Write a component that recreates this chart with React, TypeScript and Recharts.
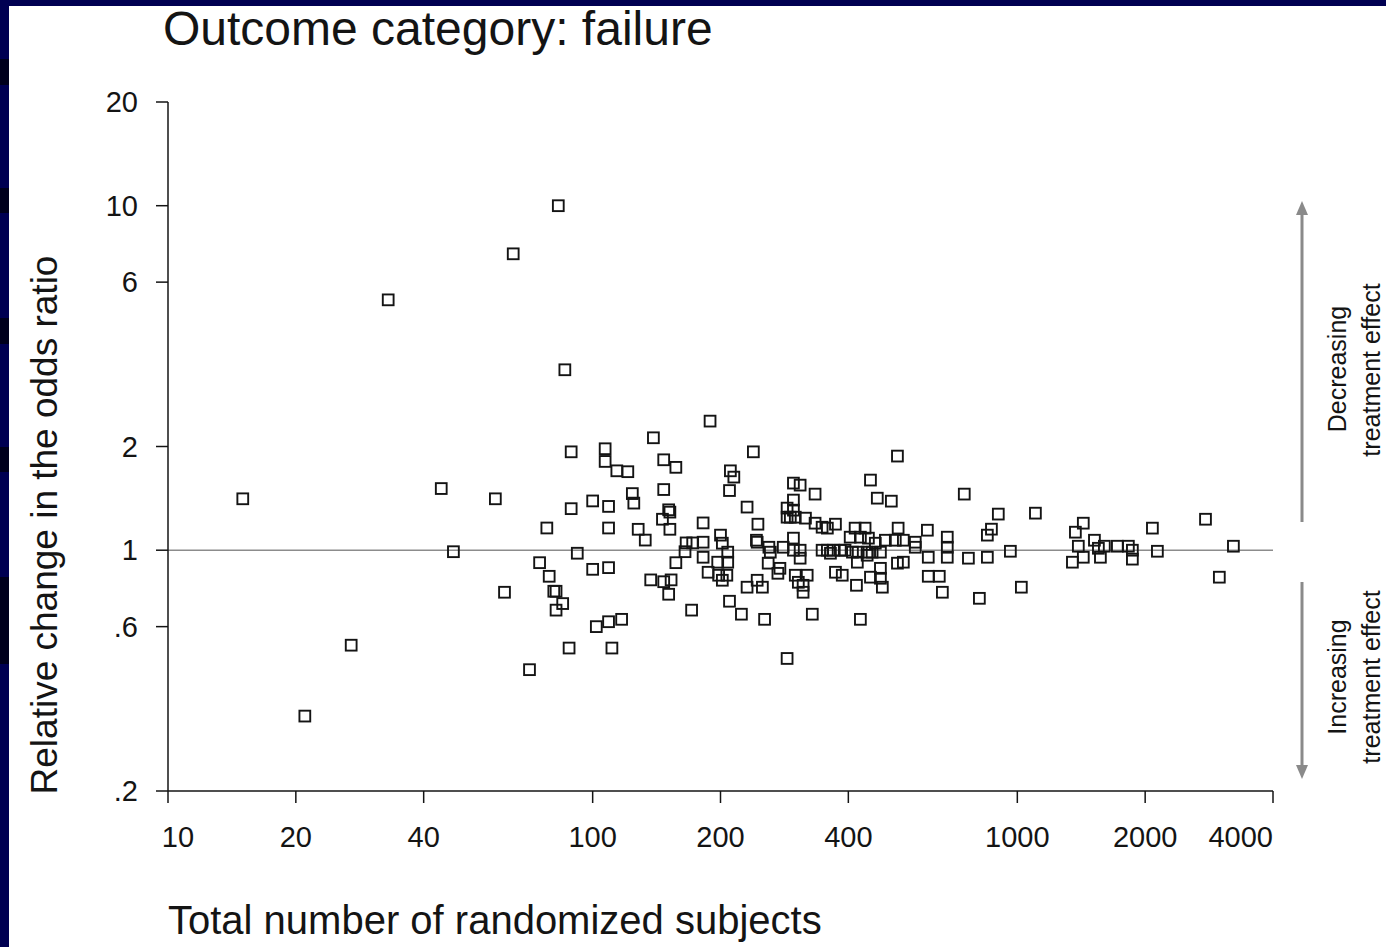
import { ScatterChart, Scatter, XAxis, YAxis, ReferenceLine } from "recharts";

// Total number of randomized subjects per trial
const subjects = [
  15, 21, 27, 33, 44, 47, 59, 62, 65, 71,
  75, 78, 79, 81, 82, 83, 85, 82, 86, 88,
  89, 89, 92, 100, 100, 102, 107, 107, 109, 109,
  109, 109, 111, 114, 117, 121, 124, 125, 128, 133,
  137, 139, 147, 147, 147, 151, 152, 146, 152, 153,
  151, 157, 157, 165, 166, 171, 172, 182, 182, 182,
  187, 189, 197, 200, 202, 198, 202, 207, 208, 208,
  210, 211, 215, 210, 224, 231, 231, 239, 243, 244,
  244, 245, 251, 254, 259, 260, 262, 273, 276, 281,
  287, 287, 287, 297, 308, 297, 297, 292, 300, 317,
  297, 297, 308, 308, 300, 320, 305, 313, 313, 329,
  334, 334, 347, 357, 373, 347, 357, 369, 383, 393,
  363, 373, 387, 404, 415, 438, 427, 446, 409, 422,
  443, 455, 476, 420, 443, 418, 427, 451, 451, 463,
  468, 476, 476, 481, 489, 505, 516, 522, 524, 539,
  522, 539, 575, 575, 614, 617, 617, 655, 666, 684,
  684, 684, 750, 767, 814, 850, 869, 850, 902, 963,
  1022, 1103, 1348, 1370, 1430, 1392, 1430, 1519, 1552, 1603,
  1720, 1826, 1866, 1866, 1569, 2080, 2137, 2774, 2990, 3227,
];

// Relative change in the odds ratio for the same trials
const oddsRatio = [
  1.41, 0.33, 0.53, 5.33, 1.51, 0.99, 1.41, 0.755, 7.25, 0.45,
  0.92, 1.16, 0.84, 0.76, 0.76, 10.0, 0.70, 0.67, 3.34, 0.52,
  1.93, 1.32, 0.98, 1.39, 0.88, 0.60, 1.97, 1.81, 1.34, 1.16,
  0.89, 0.62, 0.52, 1.70, 0.63, 1.69, 1.46, 1.37, 1.15, 1.07,
  0.82, 2.12, 0.81, 1.83, 1.50, 1.31, 1.29, 1.23, 1.15, 0.82,
  0.745, 1.74, 0.92, 0.99, 1.05, 0.67, 1.05, 1.20, 1.055, 0.954,
  0.863, 2.37, 0.923, 1.106, 1.048, 0.846, 0.818, 0.846, 0.923, 0.987,
  1.49, 1.70, 1.63, 0.711, 0.652, 1.334, 0.781, 1.93, 1.069, 1.055,
  0.818, 1.19, 0.781, 0.63, 0.917, 1.02, 0.987, 0.857, 0.886, 1.02,
  1.325, 1.247, 0.485, 1.566, 1.545, 1.398, 1.307, 1.247, 1.247, 1.239,
  1.084, 1.0, 1.0, 0.948, 0.846, 0.846, 0.807, 0.791, 0.755, 0.652,
  1.455, 1.198, 1.166, 1.159, 1.19, 1.0, 1.0, 1.0, 1.0, 1.0,
  0.98, 0.863, 0.846, 1.091, 1.159, 1.159, 1.091, 1.084, 0.987, 0.987,
  0.987, 0.987, 0.987, 0.923, 0.967, 0.791, 0.63, 1.598, 0.835, 1.048,
  1.416, 0.886, 0.829, 0.781, 1.069, 1.388, 1.069, 1.876, 1.159, 1.069,
  0.917, 0.923, 1.055, 1.02, 1.143, 0.954, 0.84, 0.84, 0.755, 1.091,
  1.02, 0.954, 1.455, 0.948, 0.725, 1.106, 1.151, 0.954, 1.273, 0.993,
  0.781, 1.281, 0.923, 1.128, 1.198, 1.027, 0.954, 1.069, 1.013, 1.027,
  1.027, 1.027, 1.0, 0.942, 0.954, 1.159, 0.993, 1.23, 0.835, 1.027,
];

const xTicks = [10, 20, 40, 100, 200, 400, 1000, 2000, 4000];
const yTicks = [0.2, 0.6, 1, 2, 6, 10, 20];
const yTickLabels = [".2", ".6", "1", "2", "6", "10", "20"];

const FONT = '"Liberation Sans", Arial, Helvetica, sans-serif';
const NAVY = "#000052";
const INK = "#141414";
const ARROW = "#8a8a8a";

const points = subjects.map((n, i) => ({ n, or: oddsRatio[i] }));

// hollow square marker, like the Stata "Sh" symbol
const Square = (props: any) => {
  const { cx, cy } = props;
  if (cx == null || cy == null) return null;
  return (
    <rect
      x={cx - 5.4}
      y={cy - 5.4}
      width={10.8}
      height={10.8}
      fill="none"
      stroke={INK}
      strokeWidth={1.9}
    />
  );
};

const XTick = (props: any) => {
  const { x, y, payload, index } = props;
  const last = index === xTicks.length - 1;
  const first = index === 0;
  return (
    <text
      x={first ? x + 10 : x}
      y={y + 42}
      textAnchor={last ? "end" : "middle"}
      fontSize={29}
      fontFamily={FONT}
      fill={INK}
    >
      {payload.value}
    </text>
  );
};

const YTick = (props: any) => {
  const { x, y, payload } = props;
  const i = yTicks.indexOf(payload.value);
  return (
    <text
      x={x - 16}
      y={y + 10}
      textAnchor="end"
      fontSize={29}
      fontFamily={FONT}
      fill={INK}
    >
      {i >= 0 ? yTickLabels[i] : payload.value}
    </text>
  );
};

// dark bands along the slide's left edge
const bands = [
  [59, 26],
  [188, 25],
  [318, 26],
  [447, 25],
  [577, 87],
];

export default function App() {
  return (
    <div
      style={{
        position: "absolute",
        left: 0,
        top: 0,
        width: 1386,
        height: 947,
        background: NAVY,
        overflow: "hidden",
      }}
    >
      {bands.map(([top, h]) => (
        <div
          key={top}
          style={{ position: "absolute", left: 0, top, width: 9, height: h, background: "#00001c" }}
        />
      ))}
      <div
        style={{ position: "absolute", left: 9, top: 6, width: 1377, height: 941, background: "#ffffff" }}
      />
      <div style={{ position: "absolute", left: 0, top: 0 }}>
        <ScatterChart
          width={1386}
          height={947}
          margin={{ top: 102, right: 113, bottom: 96, left: 88 }}
        >
          <XAxis
            type="number"
            dataKey="n"
            scale="log"
            domain={[10, 4000]}
            ticks={xTicks}
            interval={0}
            allowDataOverflow
            height={60}
            tickSize={12}
            axisLine={{ stroke: INK, strokeWidth: 1.5 }}
            tickLine={{ stroke: INK, strokeWidth: 1.5 }}
            tick={<XTick />}
          />
          <YAxis
            type="number"
            dataKey="or"
            scale="log"
            domain={[0.2, 20]}
            ticks={yTicks}
            interval={0}
            allowDataOverflow
            width={80}
            tickSize={12}
            axisLine={{ stroke: INK, strokeWidth: 1.5 }}
            tickLine={{ stroke: INK, strokeWidth: 1.5 }}
            tick={<YTick />}
          />
          <ReferenceLine y={1} stroke="#8c8c8c" strokeWidth={1.5} />
          <Scatter data={points} shape={<Square />} isAnimationActive={false} />
        </ScatterChart>
      </div>
      <svg
        width={1386}
        height={947}
        style={{ position: "absolute", left: 0, top: 0, pointerEvents: "none" }}
      >
        <text x={163} y={45} fontSize={48} fontFamily={FONT} fill={INK}>
          Outcome category: failure
        </text>
        <text
          transform="translate(57 525) rotate(-90)"
          textAnchor="middle"
          fontSize={37}
          fontFamily={FONT}
          fill={INK}
        >
          Relative change in the odds ratio
        </text>
        <text x={168} y={934} fontSize={40} fontFamily={FONT} fill={INK}>
          Total number of randomized subjects
        </text>

        <line x1={1302} y1={522} x2={1302} y2={212} stroke={ARROW} strokeWidth={3} />
        <polygon points="1302,201 1296,215 1308,215" fill={ARROW} />
        <line x1={1302} y1={582} x2={1302} y2={768} stroke={ARROW} strokeWidth={3} />
        <polygon points="1302,779 1296,765 1308,765" fill={ARROW} />

        <text transform="translate(1346 369) rotate(-90)" textAnchor="middle" fontSize={25} fontFamily={FONT} fill={INK}>
          Decreasing
        </text>
        <text transform="translate(1380 370) rotate(-90)" textAnchor="middle" fontSize={25} fontFamily={FONT} fill={INK}>
          treatment effect
        </text>
        <text transform="translate(1346 677) rotate(-90)" textAnchor="middle" fontSize={25} fontFamily={FONT} fill={INK}>
          Increasing
        </text>
        <text transform="translate(1380 677) rotate(-90)" textAnchor="middle" fontSize={25} fontFamily={FONT} fill={INK}>
          treatment effect
        </text>
      </svg>
    </div>
  );
}
